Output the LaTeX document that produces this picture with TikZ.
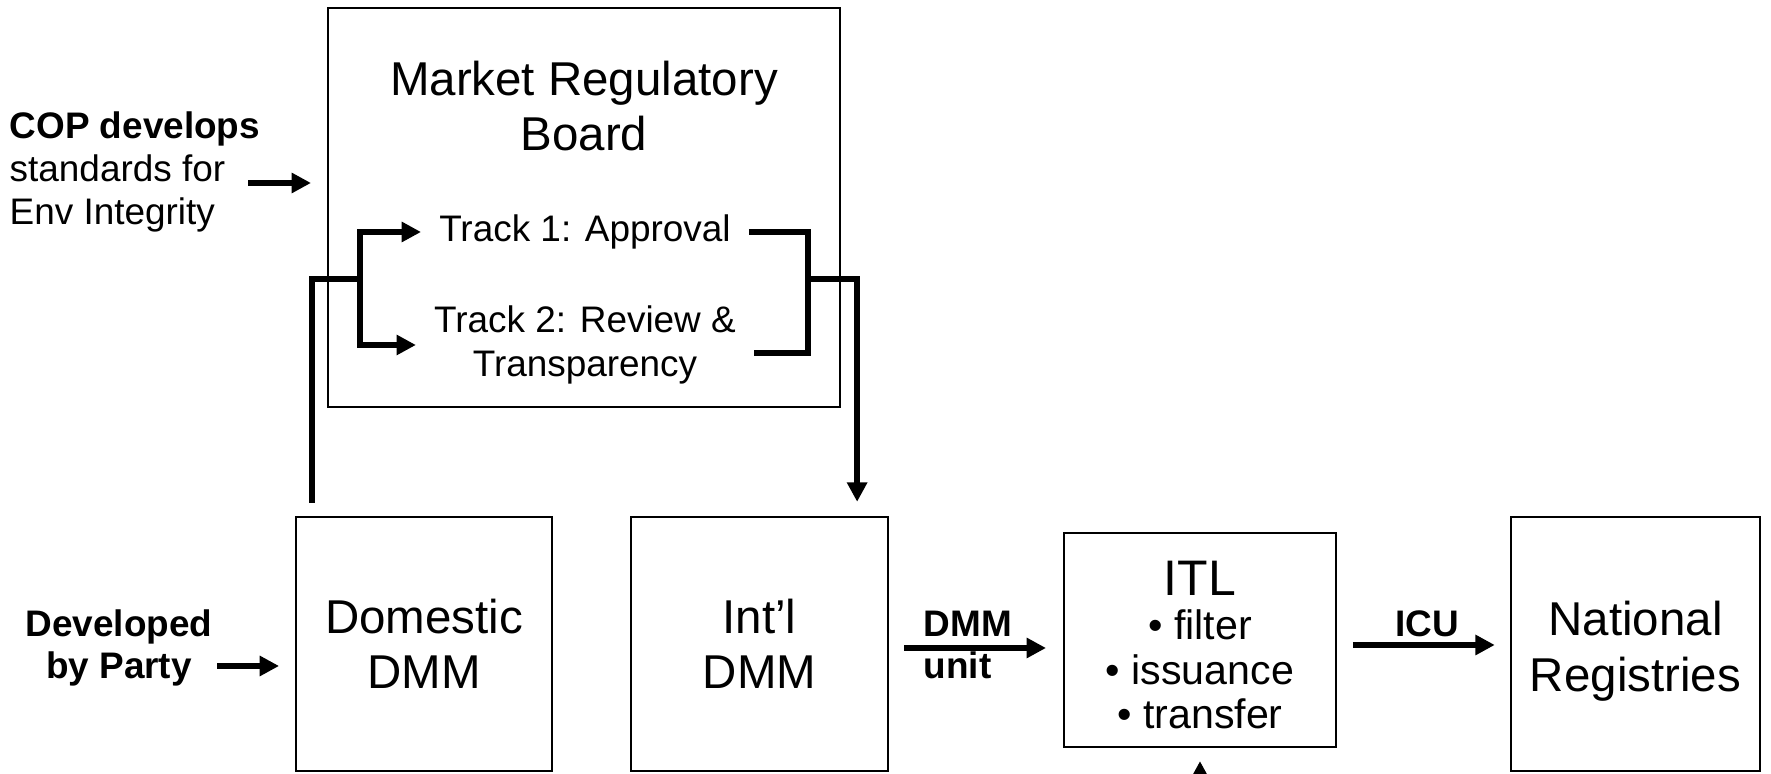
\documentclass[tikz,border=0pt]{standalone}
\usepackage{fontspec}
\setmainfont{Liberation Sans}
\usetikzlibrary{arrows.meta}

\begin{document}
\begin{tikzpicture}[x=0.01cm, y=-0.01cm, >={Triangle[length=5.5pt,width=5.5pt]},
    box/.style={draw, line width=0.6pt, inner sep=0pt, align=center},
    big/.style={font=\fontsize{13.5}{15.8}\selectfont},
    small/.style={font=\fontsize{10.5}{12.3}\selectfont},
    tag/.style={font=\fontsize{10.5}{12}\selectfont\bfseries, inner sep=0pt},
    link/.style={line width=1.9pt}]
\useasboundingbox (0,0) rectangle (1771,774);

% the board and its two tracks
\node[box, minimum width=5.12cm, minimum height=3.99cm] (mrb) at (584,207.5) {};
\node[big, align=center] (mrbname) at (584,106) {Market Regulatory\\Board};
\node[small, inner xsep=5pt] (t1) at (585,232) {Track 1: Approval};
\node[small, align=center, inner xsep=5pt, font=\fontsize{10.5}{12.5}\selectfont] (t2) at (585,345) {Track 2: Review \&\\Transparency};

% lower row
\node[box, big, minimum width=2.56cm, minimum height=2.54cm] (dom) at (424,644) {Domestic\\DMM};
\node[box, big, minimum width=2.57cm, minimum height=2.54cm] (intl) at (759.5,644) {Int’l\\DMM};
\node[box, minimum width=2.72cm, minimum height=2.14cm] (itl) at (1200,640) {};
\node[align=center, font=\fontsize{11.7}{12.6}\selectfont] (itlname) at (1200,645)
    {{\fontsize{14.2}{14.2}\selectfont ITL}\\• filter\\• issuance\\• transfer};
\node[box, minimum width=2.49cm, minimum height=2.54cm] (nat) at (1635.5,644) {};
\node[big, align=center] (natname) at (1635.5,651) {National\\Registries};

% notes on the left
\node[small, align=left, anchor=west, inner sep=0pt] (cop) at (9,172) {\textbf{COP develops}\\standards for\\Env Integrity};
\node[tag, align=center, font=\fontsize{10.5}{12.2}\selectfont\bfseries] (dev) at (119,648) {Developed\\by Party};

\coordinate (copfrom) at (248,183);
\draw[link,->,shorten >=4.5pt] (copfrom) -- (mrb.west |- copfrom);
\coordinate (devfrom) at (217,666);
\draw[link,->,shorten >=4.5pt] (devfrom) -- (dom.west |- devfrom);

% domestic DMM into the tracks
\coordinate (domup) at (312,503);
\coordinate (lfork) at (360,279);
\draw[link,->] (domup) |- (lfork) |- (t1.west);
\draw[link,->] (lfork) |- (t2.west);

% tracks out to int'l DMM
\coordinate (rbot) at (808,353);
\coordinate (rmid) at (808,279);
\draw[link] (t1.east) -| (rbot) -- (t2.east |- rbot);
\draw[link,->,shorten >=4pt] (rmid) -| ([xshift=-9.1pt]intl.north east);

% DMM unit and ICU
\coordinate (unitrow) at (0,648);
\draw[link,->,shorten <=4.3pt,shorten >=4.8pt] (intl.east |- unitrow) -- (itl.west |- unitrow);
\node[tag, align=left, anchor=west] (unit) at (923,645) {DMM\\unit};

\coordinate (icurow) at (0,645);
\draw[link,->,shorten <=4.5pt,shorten >=4.3pt] (itl.east |- icurow) -- (nat.west |- icurow);
\node[tag] (icu) at (1427,624) {ICU};

\coordinate (itlfeed) at (1200,810);
\draw[link,->,shorten >=3.7pt] (itl.south |- itlfeed) -- (itl.south);
\end{tikzpicture}
\end{document}
